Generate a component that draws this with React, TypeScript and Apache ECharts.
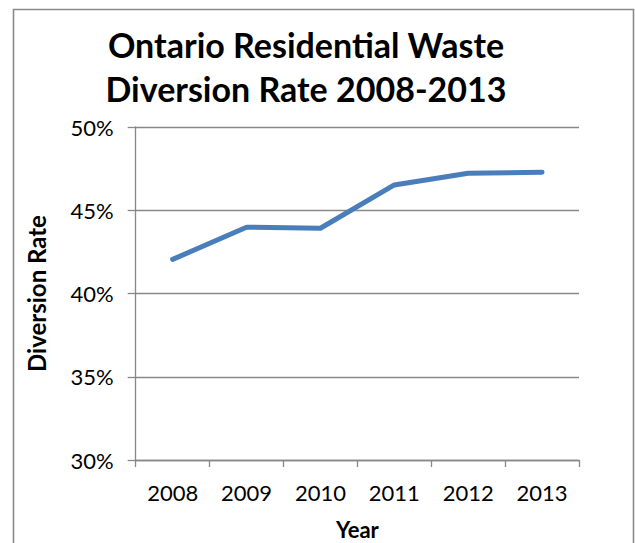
import React, { useEffect, useRef } from "react";
import * as echarts from "echarts";

const years = ["2008", "2009", "2010", "2011", "2012", "2013"];
const diversionRate = [42.05, 43.98, 43.92, 46.52, 47.22, 47.28];
const titleLines = ["Ontario Residential Waste", "Diversion Rate 2008-2013"];

export default function App() {
  const ref = useRef<HTMLDivElement>(null);
  useEffect(() => {
    if (!ref.current) return;
    const chart = echarts.init(ref.current, null, { renderer: "svg" });
    const font = "Lato, 'Open Sans', sans-serif";
    chart.setOption({
      animation: false,
      backgroundColor: "#ffffff",
      textStyle: { fontFamily: font },
      graphic: [
        {
          type: "rect",
          shape: { x: 13.5, y: 9.5, width: 620, height: 600 },
          style: { fill: "none", stroke: "#8a8a8a", lineWidth: 1.6 },
          silent: true,
        },
        {
          type: "text",
          x: 306,
          y: 44,
          style: {
            text: titleLines[0],
            fontFamily: font,
            fontWeight: "bold",
            fontSize: 34,
            fill: "#000",
            textAlign: "center",
            textVerticalAlign: "middle",
          },
        },
        {
          type: "text",
          x: 306,
          y: 88,
          style: {
            text: titleLines[1],
            fontFamily: font,
            fontWeight: "bold",
            fontSize: 34,
            fill: "#000",
            textAlign: "center",
            textVerticalAlign: "middle",
          },
        },
      ],
      grid: {
        left: 135.7,
        right: 56,
        top: 127,
        bottom: 83,
        containLabel: false,
        outerBoundsMode: "none",
      },
      xAxis: {
        type: "category",
        data: years,
        boundaryGap: true,
        name: "Year",
        nameLocation: "middle",
        nameGap: 58,
        nameTextStyle: { fontFamily: font, fontWeight: "bold", fontSize: 22, color: "#000" },
        axisLine: { lineStyle: { color: "#888888", width: 1.3 } },
        axisTick: { show: true, length: 7, lineStyle: { color: "#888888", width: 1.3 } },
        axisLabel: { margin: 21, fontFamily: font, fontSize: 22, color: "#000" },
        splitLine: { show: false },
      },
      yAxis: {
        type: "value",
        min: 30,
        max: 50,
        interval: 5,
        name: "Diversion Rate",
        nameLocation: "middle",
        nameGap: 87,
        nameRotate: 90,
        nameTextStyle: { fontFamily: font, fontWeight: "bold", fontSize: 24, color: "#000" },
        axisLine: { show: true, lineStyle: { color: "#888888", width: 1.3 } },
        axisTick: { show: true, length: 8, lineStyle: { color: "#888888", width: 1.3 } },
        axisLabel: {
          margin: 22,
          fontFamily: font,
          fontSize: 22,
          color: "#000",
          formatter: (v: number) => v + "%",
        },
        splitLine: { show: true, lineStyle: { color: "#888888", width: 1.3 } },
      },
      series: [
        {
          type: "line",
          data: diversionRate,
          showSymbol: false,
          symbol: "none",
          lineStyle: { color: "#4a7ebb", width: 5, cap: "round", join: "round" },
        },
      ],
    });
    return () => chart.dispose();
  }, []);
  return (
    <div
      ref={ref}
      style={{ position: "fixed", left: 0, top: 0, width: 635, height: 543 }}
    />
  );
}
